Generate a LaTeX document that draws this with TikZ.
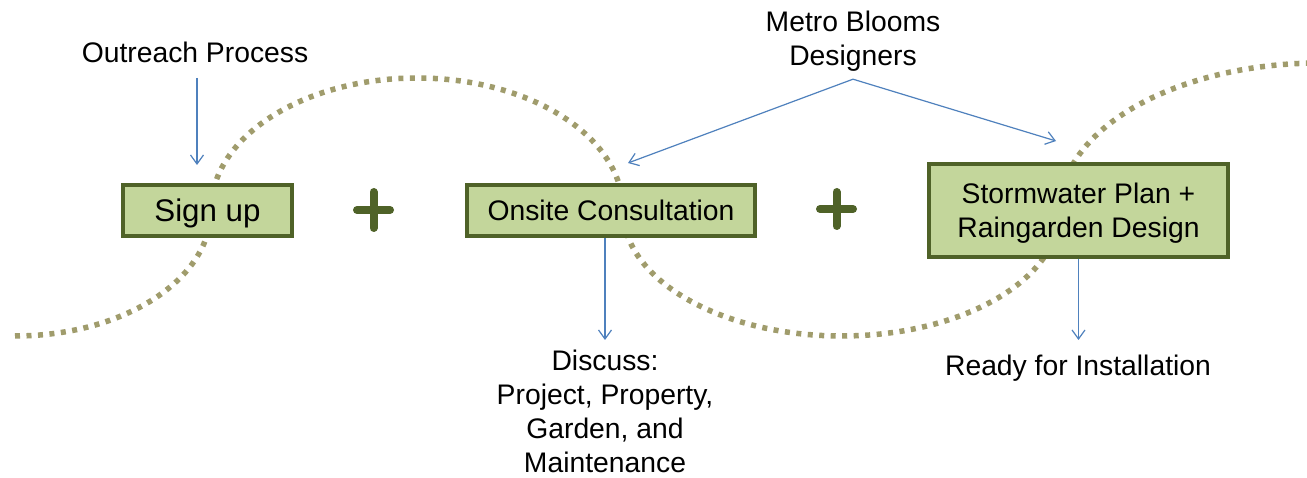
\documentclass[tikz,border=0pt]{standalone}
\usepackage{fontspec}
\setmainfont{Liberation Sans}
\usetikzlibrary{arrows.meta}
\definecolor{boxfill}{HTML}{C3D69B}
\definecolor{boxline}{HTML}{4F6228}
\definecolor{wave}{HTML}{A09C6C}
\definecolor{arrblue}{HTML}{4F81BD}
\begin{document}
\begin{tikzpicture}[x=1pt,y=-1pt,
  txt/.style={font=\fontsize{28.3}{34}\selectfont, inner sep=0pt, align=center},
  stepbox/.style={draw=boxline, fill=boxfill, line width=4pt, inner sep=0pt,
    align=center, text depth=0pt, font=\fontsize{28.3}{34}\selectfont},
  arr/.style={draw=arrblue, line width=1.2pt, -{Straight Barb[length=9pt,width=13pt]}},
  plus/.style={draw=boxline, line width=8pt, line cap=round},
  wavy/.style={draw=wave, line width=5.5pt, dash pattern=on 5pt off 6.5pt}]
\useasboundingbox (0,0) rectangle (1307,478);
\fill[white] (0,0) rectangle (1307,478);
% wave
\draw[wavy] (15,336) arc[start angle=90,end angle=0,x radius=196,y radius=126]
  arc[start angle=180,end angle=360,x radius=206,y radius=132]
  arc[start angle=180,end angle=0,x radius=218.5,y radius=126]
  arc[start angle=180,end angle=275,x radius=260,y radius=147];
% boxes
\node[stepbox, minimum width=169pt, minimum height=51pt, font=\fontsize{31.3}{36}\selectfont] (signup) at (207.5,210.5) {Sign up};
\node[stepbox, minimum width=288pt, minimum height=51pt] (onsite) at (611,210.5) {Onsite Consultation};
\node[stepbox, minimum width=299pt, minimum height=93pt] (storm) at (1078.5,210.5) {Stormwater Plan +\\Raingarden Design};
% plus signs
\draw[plus] (373.5,192) -- (373.5,228) (357,210) -- (390,210);
\draw[plus] (836.5,192) -- (836.5,226) (820,209) -- (853,209);
% labels
\node[txt, anchor=base] (outreach) at (195,63) {Outreach Process};
\node[txt] (metro) at (853,40.8) {Metro Blooms\\Designers};
\node[txt] (discuss) at (605,411) {Discuss:\\Project, Property,\\Garden, and\\Maintenance};
\node[txt, anchor=base] (ready) at (1078,375) {Ready for Installation};
% connectors
\coordinate (t1) at (197,165);
\coordinate (t2) at (628,163);
\coordinate (t3) at (1056,141);
\coordinate (t4) at (605,340);
\coordinate (t5) at (1078.5,340);
\coordinate (apex) at ([yshift=-8pt]metro.south);
\draw[arr] ([xshift=2pt,yshift=-15pt]outreach.base) -- (t1);
\draw[arr] (apex) -- (t2);
\draw[arr] (apex) -- (t3);
\draw[arr] ([xshift=-6pt]onsite.south) -- (t4);
\draw[arr] (storm.south) -- (t5);
\end{tikzpicture}
\end{document}
